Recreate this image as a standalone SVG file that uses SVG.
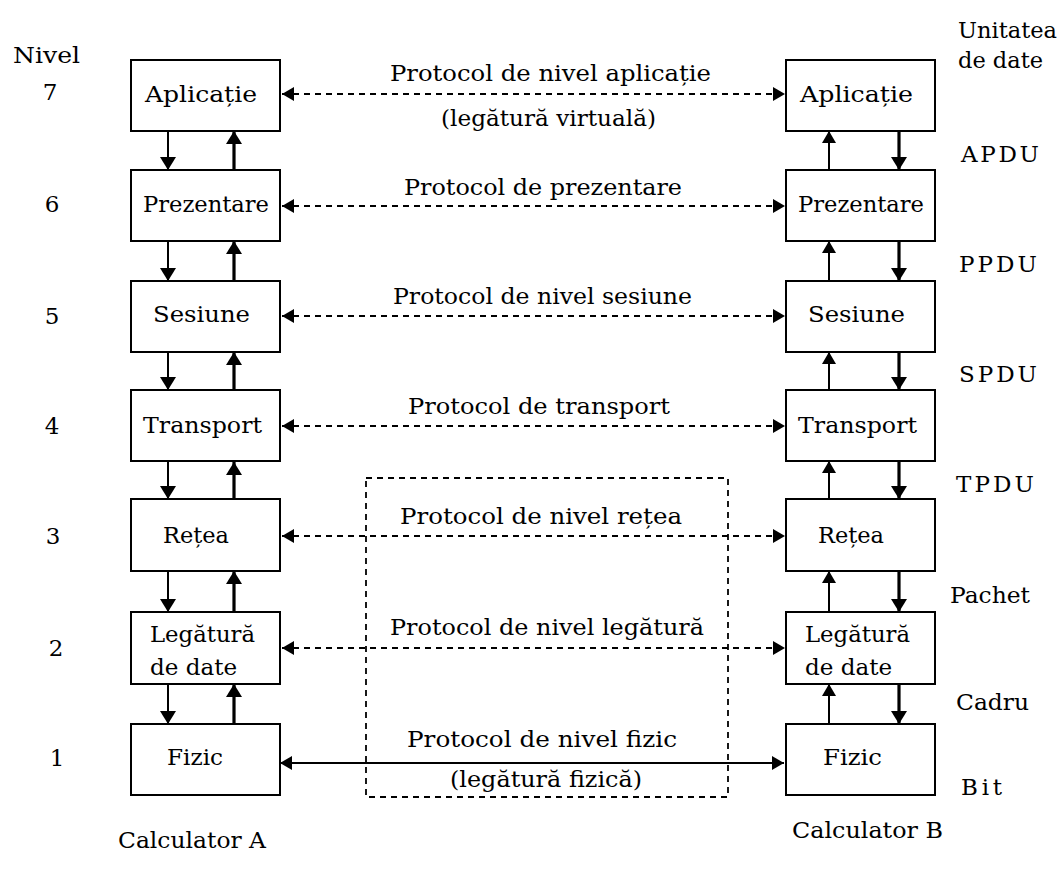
<svg xmlns="http://www.w3.org/2000/svg" width="1061" height="872" viewBox="0 0 1061 872">
<defs>
<style>
text{font-family:"DejaVu Serif","Liberation Serif",serif;font-size:23px;fill:#000;}
.box{fill:#fff;stroke:#000;stroke-width:2;}
.dash{stroke:#000;stroke-width:1.8;stroke-dasharray:6,5;fill:none;}
.thin{stroke:#000;stroke-width:2;fill:none;}
.thick{stroke:#000;stroke-width:3.2;fill:none;}
</style>
<marker id="ah" markerUnits="userSpaceOnUse" markerWidth="14" markerHeight="16" refX="13" refY="8" orient="auto-start-reverse" viewBox="0 0 14 16">
<path d="M0,0 L13,8 L0,16 z" fill="#000"/>
</marker>
<marker id="ahs" markerUnits="userSpaceOnUse" markerWidth="13" markerHeight="14" refX="12" refY="7" orient="auto-start-reverse" viewBox="0 0 13 14">
<path d="M0,0 L12,7 L0,14 z" fill="#000"/>
</marker>
</defs>
<rect width="1061" height="872" fill="#fff"/>

<g id="labels-left">
<text x="13" y="63" textLength="67" lengthAdjust="spacingAndGlyphs">Nivel</text>
<text x="50" y="100" text-anchor="middle">7</text>
<text x="52" y="212" text-anchor="middle">6</text>
<text x="52" y="324" text-anchor="middle">5</text>
<text x="52" y="434" text-anchor="middle">4</text>
<text x="53" y="544" text-anchor="middle">3</text>
<text x="56" y="656" text-anchor="middle">2</text>
<text x="57" y="766" text-anchor="middle">1</text>
<text x="118" y="848" textLength="148" lengthAdjust="spacingAndGlyphs">Calculator A</text>
</g>

<g id="labels-right">
<text x="958" y="38" textLength="99" lengthAdjust="spacingAndGlyphs">Unitatea</text>
<text x="958" y="68" textLength="85" lengthAdjust="spacingAndGlyphs">de date</text>
<text x="961" y="162" textLength="78" lengthAdjust="spacing">APDU</text>
<text x="959" y="272" textLength="78" lengthAdjust="spacing">PPDU</text>
<text x="959" y="382" textLength="78" lengthAdjust="spacing">SPDU</text>
<text x="956" y="492" textLength="78" lengthAdjust="spacing">TPDU</text>
<text x="950" y="603" textLength="80" lengthAdjust="spacingAndGlyphs">Pachet</text>
<text x="956" y="710" textLength="73" lengthAdjust="spacingAndGlyphs">Cadru</text>
<text x="961" y="795" textLength="41" lengthAdjust="spacing">Bit</text>
<text x="792" y="838" textLength="151" lengthAdjust="spacingAndGlyphs">Calculator B</text>
</g>

<g id="connectors">
<rect x="366" y="478" width="362" height="319" class="dash"/>
<line x1="282" y1="94" x2="785" y2="94" class="dash" marker-start="url(#ahs)" marker-end="url(#ahs)"/>
<line x1="282" y1="206" x2="785" y2="206" class="dash" marker-start="url(#ahs)" marker-end="url(#ahs)"/>
<line x1="282" y1="316" x2="785" y2="316" class="dash" marker-start="url(#ahs)" marker-end="url(#ahs)"/>
<line x1="282" y1="426" x2="785" y2="426" class="dash" marker-start="url(#ahs)" marker-end="url(#ahs)"/>
<line x1="282" y1="536" x2="785" y2="536" class="dash" marker-start="url(#ahs)" marker-end="url(#ahs)"/>
<line x1="282" y1="648" x2="785" y2="648" class="dash" marker-start="url(#ahs)" marker-end="url(#ahs)"/>
<line x1="280" y1="763" x2="784" y2="763" class="thin" marker-start="url(#ahs)" marker-end="url(#ahs)"/>
<line x1="168" y1="131" x2="168" y2="170" class="thin" marker-end="url(#ah)"/>
<line x1="168" y1="241" x2="168" y2="281" class="thin" marker-end="url(#ah)"/>
<line x1="168" y1="352" x2="168" y2="390" class="thin" marker-end="url(#ah)"/>
<line x1="168" y1="461" x2="168" y2="499" class="thin" marker-end="url(#ah)"/>
<line x1="168" y1="571" x2="168" y2="612" class="thin" marker-end="url(#ah)"/>
<line x1="168" y1="684" x2="168" y2="724" class="thin" marker-end="url(#ah)"/>
<line x1="234" y1="170" x2="234" y2="131" class="thick" marker-end="url(#ah)"/>
<line x1="234" y1="281" x2="234" y2="241" class="thick" marker-end="url(#ah)"/>
<line x1="234" y1="390" x2="234" y2="352" class="thick" marker-end="url(#ah)"/>
<line x1="234" y1="508" x2="234" y2="462" class="thick" marker-end="url(#ah)"/>
<line x1="234" y1="612" x2="234" y2="571" class="thick" marker-end="url(#ah)"/>
<line x1="234" y1="724" x2="234" y2="684" class="thick" marker-end="url(#ah)"/>
<line x1="829" y1="170" x2="829" y2="131" class="thin" marker-end="url(#ahs)"/>
<line x1="829" y1="281" x2="829" y2="241" class="thin" marker-end="url(#ahs)"/>
<line x1="829" y1="390" x2="829" y2="352" class="thin" marker-end="url(#ahs)"/>
<line x1="829" y1="499" x2="829" y2="461" class="thin" marker-end="url(#ahs)"/>
<line x1="829" y1="612" x2="829" y2="571" class="thin" marker-end="url(#ahs)"/>
<line x1="829" y1="724" x2="829" y2="684" class="thin" marker-end="url(#ahs)"/>
<line x1="899" y1="131" x2="899" y2="170" class="thick" marker-end="url(#ah)"/>
<line x1="899" y1="241" x2="899" y2="281" class="thick" marker-end="url(#ah)"/>
<line x1="899" y1="352" x2="899" y2="390" class="thick" marker-end="url(#ah)"/>
<line x1="899" y1="461" x2="899" y2="499" class="thick" marker-end="url(#ah)"/>
<line x1="899" y1="571" x2="899" y2="612" class="thick" marker-end="url(#ah)"/>
<line x1="899" y1="684" x2="899" y2="724" class="thick" marker-end="url(#ah)"/>
</g>

<g id="protocol-labels">
<text x="390" y="81" textLength="321" lengthAdjust="spacingAndGlyphs">Protocol de nivel aplicație</text>
<text x="441" y="126" textLength="215" lengthAdjust="spacingAndGlyphs">(legătură virtuală)</text>
<text x="404" y="195" textLength="278" lengthAdjust="spacingAndGlyphs">Protocol de prezentare</text>
<text x="393" y="304" textLength="299" lengthAdjust="spacingAndGlyphs">Protocol de nivel sesiune</text>
<text x="408" y="414" textLength="262" lengthAdjust="spacingAndGlyphs">Protocol de transport</text>
<text x="400" y="524" textLength="282" lengthAdjust="spacingAndGlyphs">Protocol de nivel rețea</text>
<text x="390" y="635" textLength="314" lengthAdjust="spacingAndGlyphs">Protocol de nivel legătură</text>
<text x="407" y="747" textLength="270" lengthAdjust="spacingAndGlyphs">Protocol de nivel fizic</text>
<text x="450" y="787" textLength="192" lengthAdjust="spacingAndGlyphs">(legătură fizică)</text>
</g>

<g id="A-aplicatie"><rect class="box" x="131" y="60" width="149" height="71"/><text x="145" y="102" textLength="112" lengthAdjust="spacingAndGlyphs">Aplicație</text></g>
<g id="A-prezentare"><rect class="box" x="131" y="170" width="149" height="71"/><text x="143" y="212" textLength="126" lengthAdjust="spacingAndGlyphs">Prezentare</text></g>
<g id="A-sesiune"><rect class="box" x="131" y="281" width="149" height="71"/><text x="153" y="322" textLength="97" lengthAdjust="spacingAndGlyphs">Sesiune</text></g>
<g id="A-transport"><rect class="box" x="131" y="390" width="149" height="71"/><text x="143" y="433" textLength="119" lengthAdjust="spacingAndGlyphs">Transport</text></g>
<g id="A-retea"><rect class="box" x="131" y="499" width="149" height="72"/><text x="163" y="543" textLength="66" lengthAdjust="spacingAndGlyphs">Rețea</text></g>
<g id="A-legatura"><rect class="box" x="131" y="612" width="149" height="72"/><text x="150" y="642" textLength="105" lengthAdjust="spacingAndGlyphs">Legătură</text><text x="150" y="675" textLength="87" lengthAdjust="spacingAndGlyphs">de date</text></g>
<g id="A-fizic"><rect class="box" x="131" y="724" width="149" height="71"/><text x="167" y="765" textLength="56" lengthAdjust="spacingAndGlyphs">Fizic</text></g>

<g id="B-aplicatie"><rect class="box" x="786" y="60" width="149" height="71"/><text x="800" y="102" textLength="113" lengthAdjust="spacingAndGlyphs">Aplicație</text></g>
<g id="B-prezentare"><rect class="box" x="786" y="170" width="149" height="71"/><text x="798" y="212" textLength="126" lengthAdjust="spacingAndGlyphs">Prezentare</text></g>
<g id="B-sesiune"><rect class="box" x="786" y="281" width="149" height="71"/><text x="808" y="322" textLength="97" lengthAdjust="spacingAndGlyphs">Sesiune</text></g>
<g id="B-transport"><rect class="box" x="786" y="390" width="149" height="71"/><text x="798" y="433" textLength="119" lengthAdjust="spacingAndGlyphs">Transport</text></g>
<g id="B-retea"><rect class="box" x="786" y="499" width="149" height="72"/><text x="818" y="543" textLength="66" lengthAdjust="spacingAndGlyphs">Rețea</text></g>
<g id="B-legatura"><rect class="box" x="786" y="612" width="149" height="72"/><text x="805" y="642" textLength="105" lengthAdjust="spacingAndGlyphs">Legătură</text><text x="805" y="675" textLength="87" lengthAdjust="spacingAndGlyphs">de date</text></g>
<g id="B-fizic"><rect class="box" x="786" y="724" width="149" height="71"/><text x="823" y="765" textLength="59" lengthAdjust="spacingAndGlyphs">Fizic</text></g>
</svg>
